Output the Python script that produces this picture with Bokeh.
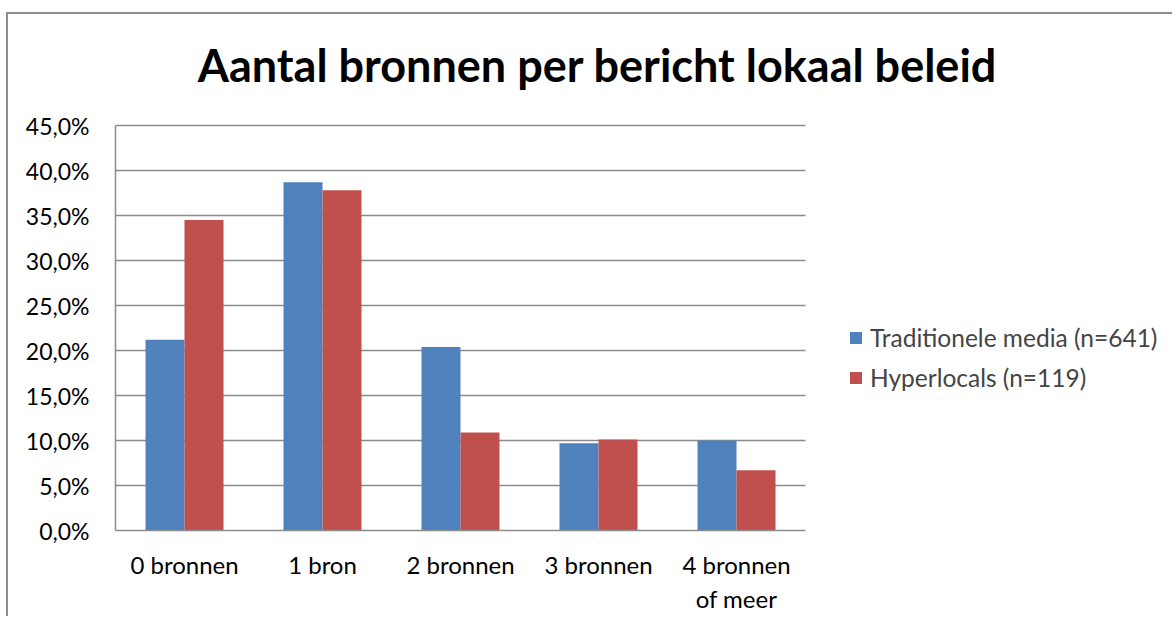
from bokeh.plotting import figure
from bokeh.models import (ColumnDataSource, Range1d, FixedTicker,
                          Legend, LegendItem, Label)
from bokeh.transform import dodge
from bokeh.embed import file_html
from bokeh.resources import INLINE

title_text = "Aantal bronnen per bericht lokaal beleid"
categories = ["0 bronnen", "1 bron", "2 bronnen", "3 bronnen", "4 bronnen\nof meer"]
series_names = ["Traditionele media (n=641)", "Hyperlocals (n=119)"]
traditionele = [21.2, 38.7, 20.4, 9.7, 10.0]
hyperlocals = [34.5, 37.8, 10.9, 10.1, 6.7]
y_ticks = [0, 5, 10, 15, 20, 25, 30, 35, 40, 45]
y_tick_labels = ["0,0%", "5,0%", "10,0%", "15,0%", "20,0%", "25,0%",
                 "30,0%", "35,0%", "40,0%", "45,0%"]

FONT = "Lato"
GRID = "#8c8c8c"

n_cat = len(categories)
x_pos = [i + 0.5 for i in range(n_cat)]
src = ColumnDataSource(dict(x=x_pos, trad=traditionele, hyper=hyperlocals))
grid_src = ColumnDataSource(dict(y=y_ticks[1:], x0=[0] * (len(y_ticks) - 1),
                                 x1=[n_cat] * (len(y_ticks) - 1)))

W, H = 1166, 604
LEFT, BOTTOM = 107, 88
PX_PER_CAT = 138.0
PX_PER_UNIT = 9.0

p = figure(x_range=Range1d(0, (W - LEFT) / PX_PER_CAT),
           y_range=Range1d(0, (H - BOTTOM) / PX_PER_UNIT),
           width=W, height=H, output_backend="svg", toolbar_location=None,
           min_border_left=LEFT, min_border_right=0, min_border_top=0,
           min_border_bottom=BOTTOM)
p.title = None
p.styles = {"border-left": "2px solid #8e8e8e", "border-top": "2px solid #8e8e8e",
            "margin": "12px 0px 0px 6px"}
p.outline_line_color = None
p.background_fill_color = "white"
p.border_fill_color = "white"
p.xgrid.visible = False
p.ygrid.visible = False

p.segment(x0="x0", x1="x1", y0="y", y1="y", source=grid_src,
          line_color=GRID, line_width=1.5)

r1 = p.vbar(x=dodge("x", -0.1413), top="trad", width=0.2826,
            source=src, fill_color="#4F81BD", line_color=None)
r2 = p.vbar(x=dodge("x", 0.1413), top="hyper", width=0.2826,
            source=src, fill_color="#C0504D", line_color=None)

yax = p.yaxis[0]
yax.ticker = FixedTicker(ticks=y_ticks)
yax.bounds = (y_ticks[0], y_ticks[-1])
yax.major_label_overrides = {t: l for t, l in zip(y_ticks, y_tick_labels)}
yax.axis_line_color = GRID
yax.axis_line_width = 1.5
yax.major_tick_out = 0
yax.major_tick_in = 0
yax.minor_tick_out = 0
yax.minor_tick_in = 0
yax.major_label_standoff = 26
yax.major_label_text_font = FONT
yax.major_label_text_font_size = "23px"
yax.major_label_text_color = "black"

xax = p.xaxis[0]
xax.ticker = FixedTicker(ticks=x_pos)
xax.bounds = (0, n_cat)
xax.major_label_overrides = {x: c for x, c in zip(x_pos, categories)}
xax.axis_line_color = GRID
xax.axis_line_width = 1.5
xax.major_tick_out = 0
xax.major_tick_in = 0
xax.minor_tick_out = 0
xax.minor_tick_in = 0
xax.major_label_standoff = 19
xax.major_label_text_font = FONT
xax.major_label_text_font_size = "24px"
xax.major_label_text_color = "black"

legend = Legend(items=[LegendItem(label=series_names[0], renderers=[r1]),
                       LegendItem(label=series_names[1], renderers=[r2])],
                location=(733, 138), padding=0, margin=0,
                border_line_color=None, background_fill_alpha=0,
                glyph_width=15, glyph_height=15, label_standoff=7, spacing=11,
                label_text_font=FONT, label_text_font_size="24.5px")
p.add_layout(legend)

p.add_layout(Label(x=482, y=466, x_units="screen", y_units="screen", text=title_text,
                   text_align="center", text_baseline="alphabetic",
                   text_font=FONT, text_font_style="bold",
                   text_font_size="45px", text_color="black"))

open("out.html", "w").write(file_html(p, INLINE))
